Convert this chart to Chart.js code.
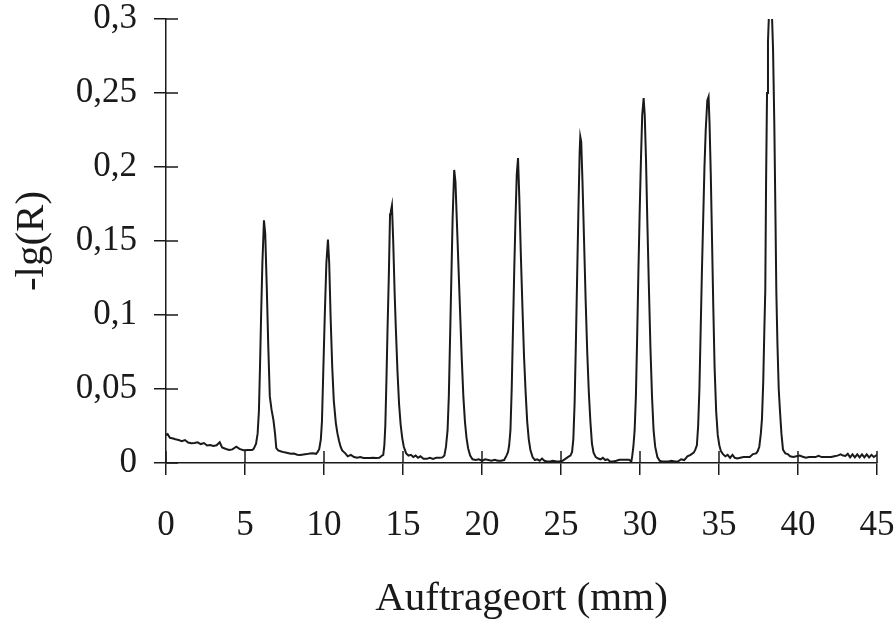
<!DOCTYPE html>
<html>
<head>
<meta charset="utf-8">
<script src="https://cdn.jsdelivr.net/npm/chart.js@4/dist/chart.umd.min.js"></script>
<style>
  html, body { margin: 0; padding: 0; background: #fff; }
  #wrap { width: 896px; height: 620px; }
</style>
</head>
<body>
<div id="wrap"><canvas id="c" width="896" height="620"></canvas></div>
<script>
// Position along the plate (mm)
const positionMm = [
  0.0, 0.1, 0.25, 0.45, 0.6, 0.8, 1.0, 1.2, 1.4, 1.6, 1.8, 2.0, 2.2, 2.4, 2.6, 2.8, 3.0, 3.2, 3.4, 3.55, 3.8, 4.0, 4.2, 4.45, 4.65, 4.9, 5.2, 5.45,
  5.55, 5.7, 5.8, 5.88, 5.95, 6.02, 6.1, 6.2, 6.28, 6.38, 6.47, 6.57, 6.68, 6.8, 6.9, 6.98,
  7.1, 7.3, 7.5, 7.7, 7.9, 8.1, 8.3, 8.5, 8.7, 8.9, 9.1, 9.3, 9.5, 9.6,
  9.7, 9.8, 9.87, 9.95, 10.05, 10.15, 10.25, 10.33, 10.42, 10.52, 10.62, 10.75, 10.85, 10.95, 11.05, 11.15,
  11.35, 11.5, 11.7, 11.9, 12.1, 12.3, 12.5, 12.7, 12.9, 13.1, 13.3, 13.5, 13.7,
  13.75, 13.82, 13.88, 13.95, 14.02, 14.1, 14.18, 14.23, 14.3, 14.38, 14.47, 14.55, 14.65, 14.75, 14.85, 14.95, 15.05,
  15.2, 15.35, 15.5, 15.65, 15.8, 15.95, 16.1, 16.3, 16.5, 16.7, 16.9, 17.1, 17.3, 17.5,
  17.62, 17.72, 17.82, 17.9, 17.98, 18.06, 18.14, 18.24, 18.32, 18.42, 18.52, 18.62, 18.72, 18.82, 18.92, 19.02, 19.12,
  19.25, 19.4, 19.6, 19.8, 20.0, 20.2, 20.4, 20.6, 20.8, 21.0, 21.2, 21.4, 21.55,
  21.65, 21.72, 21.8, 21.88, 21.96, 22.04, 22.12, 22.2, 22.28, 22.36, 22.46, 22.56, 22.66, 22.76, 22.86, 22.96, 23.06,
  23.2, 23.35, 23.5, 23.65, 23.8, 23.95, 24.1, 24.3, 24.5, 24.7, 24.9, 25.1, 25.3, 25.5,
  25.6, 25.7, 25.78, 25.86, 25.94, 26.02, 26.1, 26.18, 26.22, 26.28, 26.36, 26.46, 26.56, 26.66, 26.76, 26.86, 26.96, 27.06,
  27.2, 27.35, 27.5, 27.65, 27.8, 27.95, 28.1, 28.3, 28.5, 28.7, 28.9, 29.1, 29.3, 29.45,
  29.5, 29.58, 29.66, 29.74, 29.82, 29.9, 29.98, 30.06, 30.14, 30.23, 30.3, 30.38, 30.46, 30.56, 30.66, 30.76, 30.86, 30.96,
  31.1, 31.25, 31.4, 31.6, 31.8, 32.0, 32.2, 32.4, 32.6, 32.8, 33.0, 33.2, 33.4, 33.5,
  33.6, 33.68, 33.76, 33.84, 33.92, 34.0, 34.08, 34.16, 34.26, 34.34, 34.4, 34.48, 34.56, 34.64, 34.72, 34.82, 34.92, 35.02, 35.12,
  35.25, 35.4, 35.55, 35.7, 35.85, 36.0, 36.15, 36.35, 36.55, 36.75, 36.95, 37.15, 37.35, 37.45,
  37.55, 37.65, 37.72, 37.8, 37.87, 37.93, 37.98, 38.04, 38.1, 38.22, 38.3, 38.42, 38.5, 38.57, 38.63, 38.7, 38.78, 38.86, 38.95, 39.05,
  39.2, 39.35, 39.5, 39.7, 39.9, 40.1, 40.3, 40.5, 40.7, 40.9, 41.1, 41.3, 41.5, 41.7, 41.9, 42.1, 42.3, 42.5, 42.7, 42.85,
  43.0, 43.15, 43.3, 43.45, 43.6, 43.75, 43.9, 44.05, 44.2, 44.35, 44.5, 44.65, 44.8, 45.0
];

// -lg(R) absorbance values
const minusLgR = [
  0.019, 0.0195, 0.017, 0.0165, 0.016, 0.0155, 0.0148, 0.0155, 0.0138, 0.0133, 0.0135, 0.014, 0.0128, 0.0135, 0.0118, 0.0122, 0.0115, 0.012, 0.014, 0.0105, 0.0095, 0.0088, 0.0092, 0.011, 0.0095, 0.0086, 0.0088, 0.0088,
  0.0095, 0.013, 0.020, 0.035, 0.065, 0.100, 0.135, 0.164, 0.155, 0.118, 0.080, 0.045, 0.036, 0.029, 0.020, 0.010,
  0.0085, 0.0078, 0.0072, 0.0068, 0.0062, 0.0064, 0.0056, 0.0054, 0.0058, 0.006, 0.0064, 0.0066, 0.0062, 0.0075,
  0.0095, 0.016, 0.028, 0.06, 0.100, 0.135, 0.151, 0.135, 0.098, 0.065, 0.042, 0.027, 0.020, 0.015, 0.011, 0.0085,
  0.0065, 0.0045, 0.0055, 0.004, 0.0035, 0.004, 0.0034, 0.0034, 0.0034, 0.0035, 0.0034, 0.0035, 0.0052,
  0.0055, 0.012, 0.025, 0.055, 0.090, 0.125, 0.168, 0.170, 0.174, 0.150, 0.115, 0.090, 0.062, 0.040, 0.026, 0.017, 0.011,
  0.0065, 0.005, 0.0055, 0.004, 0.005, 0.0035, 0.0045, 0.0028, 0.0028, 0.0035, 0.0028, 0.0035, 0.0035, 0.0038,
  0.005, 0.011, 0.022, 0.045, 0.085, 0.125, 0.165, 0.198, 0.19, 0.16, 0.13, 0.10, 0.07, 0.045, 0.028, 0.017, 0.010,
  0.005, 0.0025, 0.002, 0.0025, 0.0015, 0.0025, 0.002, 0.0015, 0.0022, 0.0015, 0.0015, 0.002, 0.005,
  0.0075, 0.012, 0.022, 0.05, 0.09, 0.13, 0.165, 0.195, 0.206, 0.18, 0.14, 0.105, 0.072, 0.048, 0.028, 0.016, 0.009,
  0.004, 0.002, 0.0025, 0.0015, 0.003, 0.0015, 0.001, 0.001, 0.0015, 0.001, 0.001, 0.0015, 0.003, 0.0045,
  0.005, 0.0075, 0.016, 0.04, 0.08, 0.125, 0.17, 0.21, 0.2205, 0.217, 0.19, 0.15, 0.11, 0.075, 0.048, 0.028, 0.013, 0.007,
  0.004, 0.003, 0.0025, 0.0035, 0.002, 0.0025, 0.001, 0.001, 0.0015, 0.0022, 0.0022, 0.0022, 0.0022, 0.001,
  0.004, 0.011, 0.022, 0.045, 0.085, 0.13, 0.17, 0.205, 0.235, 0.2465, 0.235, 0.205, 0.165, 0.12, 0.078, 0.045, 0.022, 0.011,
  0.004, 0.0015, 0.001, 0.001, 0.001, 0.0015, 0.001, 0.001, 0.0025, 0.002, 0.0045, 0.0055, 0.007, 0.009,
  0.012, 0.025, 0.05, 0.09, 0.13, 0.165, 0.2, 0.225, 0.245, 0.2475, 0.23, 0.195, 0.15, 0.105, 0.065, 0.035, 0.019, 0.012, 0.008,
  0.006, 0.0045, 0.0055, 0.0035, 0.0055, 0.0035, 0.003, 0.0035, 0.004, 0.004, 0.004, 0.006, 0.0065, 0.008,
  0.011, 0.02, 0.03, 0.055, 0.09, 0.117, 0.19, 0.25, 0.285, 0.32, 0.32, 0.28, 0.23, 0.17, 0.115, 0.08, 0.05, 0.035, 0.02, 0.009,
  0.0065, 0.006, 0.0045, 0.004, 0.0045, 0.005, 0.0042, 0.0035, 0.004, 0.004, 0.004, 0.0048, 0.004, 0.004, 0.004, 0.004, 0.0045, 0.005, 0.0058, 0.005,
  0.0048, 0.0062, 0.0038, 0.0058, 0.0038, 0.0058, 0.0038, 0.0058, 0.0038, 0.0058, 0.0038, 0.0055, 0.004, 0.0055
];

const xTickLabels = ['0', '5', '10', '15', '20', '25', '30', '35', '40', '45'];
const yTickLabels = ['0', '0,05', '0,1', '0,15', '0,2', '0,25', '0,3'];
const xTitle = 'Auftrageort (mm)';
const yTitle = '-lg(R)';

const INK = '#1a1a1a';
const SERIF = '"Liberation Serif", "Times New Roman", serif';

const points = positionMm.map((x, i) => ({ x: x, y: minusLgR[i] }));

// Draw the inward half of each tick mark (ticks cross the axis in the original)
const crossTicks = {
  id: 'crossTicks',
  afterDraw(chart) {
    const ctx = chart.ctx;
    const xs = chart.scales.x, ys = chart.scales.y;
    const len = 12;
    ctx.save();
    ctx.strokeStyle = INK;
    ctx.lineWidth = 1.5;
    ctx.beginPath();
    xs.ticks.forEach(t => {
      const px = xs.getPixelForValue(t.value);
      ctx.moveTo(px, xs.top);
      ctx.lineTo(px, xs.top - len);
    });
    ys.ticks.forEach(t => {
      const py = ys.getPixelForValue(t.value);
      ctx.moveTo(ys.right, py);
      ctx.lineTo(ys.right + len, py);
    });
    ctx.stroke();
    ctx.restore();
  }
};

new Chart(document.getElementById('c'), {
  type: 'line',
  data: {
    datasets: [{
      data: points,
      borderColor: INK,
      borderWidth: 2,
      pointRadius: 0,
      tension: 0,
      fill: false
    }]
  },
  options: {
    responsive: false,
    animation: false,
    events: [],
    layout: { padding: { left: 0, right: 19, top: 19, bottom: 0 } },
    plugins: { legend: { display: false }, tooltip: { enabled: false } },
    scales: {
      x: {
        type: 'linear',
        min: 0, max: 45,
        afterFit: s => { s.height = 157; s.paddingLeft = 0; s.paddingRight = 0; },
        ticks: {
          stepSize: 5,
          color: INK,
          padding: 33,
          maxRotation: 0,
          font: { family: SERIF, size: 35, lineHeight: 1 },
          callback: (v, i) => xTickLabels[i]
        },
        grid: { display: true, drawOnChartArea: false, drawTicks: true, tickLength: 12, color: INK, lineWidth: 1.5 },
        border: { display: true, color: INK, width: 1.5 },
        title: {
          display: true, text: xTitle, color: INK,
          font: { family: SERIF, size: 41, lineHeight: 1 },
          padding: { top: 0, bottom: 0 }
        }
      },
      y: {
        min: 0, max: 0.3,
        afterFit: s => { s.width = 166; s.paddingTop = 0; s.paddingBottom = 0; },
        ticks: {
          stepSize: 0.05,
          color: INK,
          padding: 17,
          font: { family: SERIF, size: 35, lineHeight: 1 },
          callback: (v, i) => yTickLabels[i]
        },
        grid: { display: true, drawOnChartArea: false, drawTicks: true, tickLength: 12, color: INK, lineWidth: 1.5 },
        border: { display: true, color: INK, width: 1.5 },
        title: {
          display: true, text: yTitle, color: INK,
          font: { family: SERIF, size: 41, lineHeight: 1 },
          padding: { top: 12, bottom: 0 }
        }
      }
    }
  },
  plugins: [crossTicks]
});
</script>
</body>
</html>
